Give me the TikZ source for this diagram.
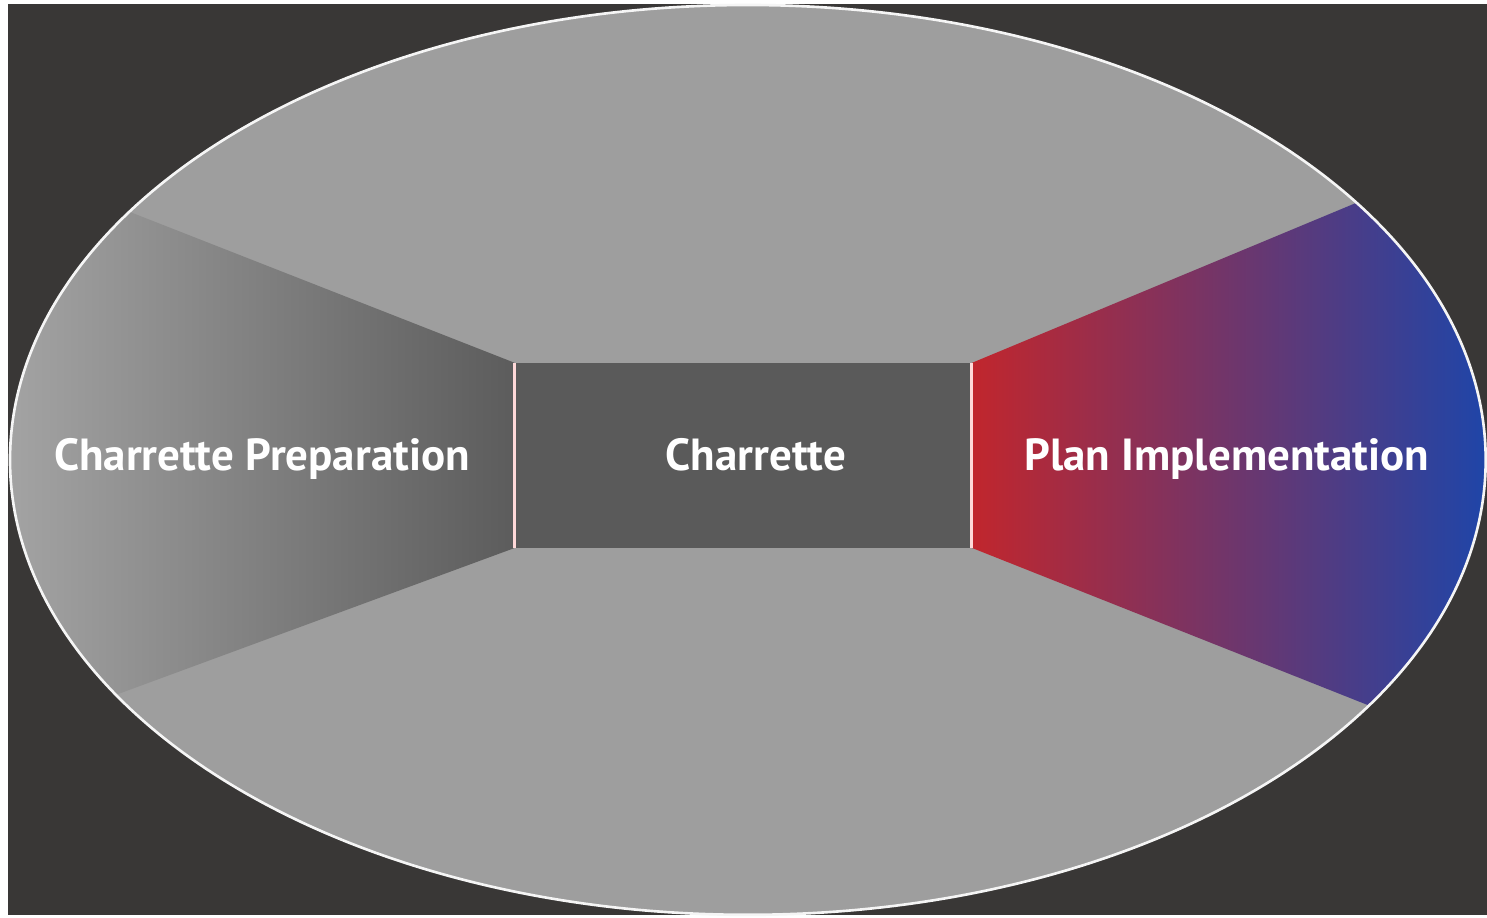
\documentclass[tikz,border=0pt]{standalone}
\usepackage{fontspec}
\setmainfont{PT Sans}
\usepackage{xcolor}

\definecolor{bgdark}{HTML}{393736}
\definecolor{ellgray}{HTML}{9E9E9E}
\definecolor{boxgray}{HTML}{5A5A5A}
\definecolor{preplight}{HTML}{A3A3A3}
\definecolor{prepdark}{HTML}{5C5C5C}
\definecolor{implred}{HTML}{C1262D}
\definecolor{implpurple}{HTML}{3F3B88}
\definecolor{implblue}{HTML}{1F45A8}

\begin{document}
\begin{tikzpicture}[
    x=0.1mm, y=-0.1mm,
    phase/.style={text=white, font=\bfseries\fontsize{12.8}{15}\selectfont, inner sep=0pt, anchor=base},
    divider/.style={draw=white!85!red, line width=0.9pt},
    rim/.style={draw=white!92!gray, line width=0.75pt}
]
% Background
\fill[white] (0,0) rectangle (1487,918);
\fill[bgdark] (8,4) rectangle (1487,915);

% Ellipse
\coordinate (c) at (748,460);
\fill[ellgray] (c) ellipse [x radius=7.38cm, y radius=4.55cm];

% Box corners
\coordinate (boxnw) at (515,363);
\coordinate (boxsw) at (515,548);
\coordinate (boxne) at (972,363);
\coordinate (boxse) at (972,548);

% Wedges
\begin{scope}
  \clip (c) ellipse [x radius=7.38cm, y radius=4.55cm];
  \shade[left color=preplight, right color=prepdark]
    (boxnw) -- (10,165) -- (10,734) -- (boxsw) -- cycle;
  \shade[left color=implred, middle color=implpurple, right color=implblue]
    (boxne) -- (1486,149) -- (1486,752) -- (boxse) -- cycle;
\end{scope}

% Charrette box
\fill[boxgray] (boxnw) rectangle (boxse);
\draw[divider] (boxnw) -- (boxsw);
\draw[divider] (boxne) -- (boxse);

% Ellipse outline
\draw[rim] (c) ellipse [x radius=7.38cm, y radius=4.55cm];

% Labels
\node[phase] (prep) at (262,471) {Charrette Preparation};
\node[phase] (charrette) at (756,471) {Charrette};
\node[phase] (impl) at (1227,471) {Plan Implementation};
\end{tikzpicture}
\end{document}
